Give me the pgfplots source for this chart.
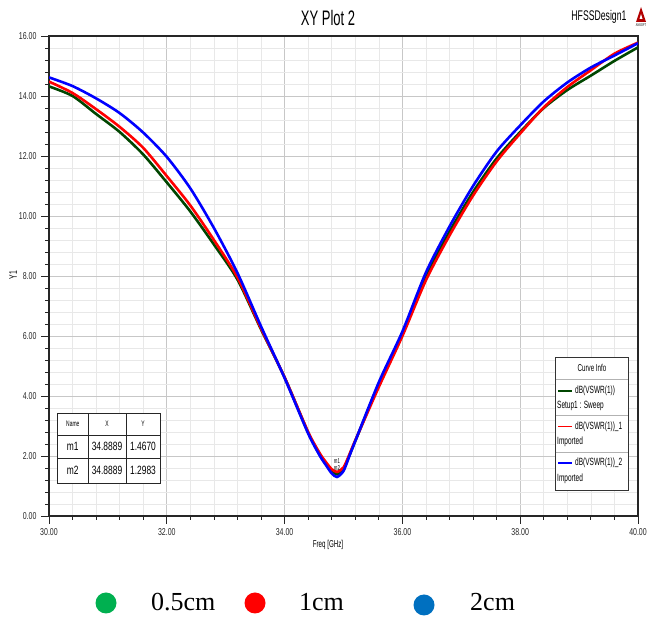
\documentclass[border=0pt]{standalone}
\usepackage{fontspec}
\usepackage{pgfplots}
\pgfplotsset{compat=1.18}
\setmainfont{Liberation Serif}
\newfontfamily\ticknarrow{Liberation Sans}[FakeStretch=0.7]
\newfontfamily\narrow{Liberation Sans}[FakeStretch=0.62]
\definecolor{cgreen}{RGB}{0,70,0}
\definecolor{cred}{RGB}{255,0,0}
\definecolor{cblue}{RGB}{0,0,255}
\definecolor{lgreen}{RGB}{0,176,80}
\definecolor{lred}{RGB}{255,0,0}
\definecolor{lblue}{RGB}{0,112,192}
\begin{document}
\begin{tikzpicture}
\path[use as bounding box] (0pt,0pt) rectangle (658pt,617pt);
\begin{axis}[
  at={(49pt,101pt)}, anchor=south west,
  scale only axis, width=589pt, height=480pt,
  xmin=30, xmax=40, ymin=0, ymax=16,
  xtick={30,32,34,36,38,40}, ytick={0,2,4,6,8,10,12,14,16},
  minor x tick num=4, minor y tick num=4,
  grid=both,
  major grid style={black!22, line width=0.7pt},
  minor grid style={black!9, line width=0.6pt},
  tick align=outside, tick pos=left,
  major tick length=8pt, minor tick length=4pt,
  tick style={black!85, line width=0.8pt},
  axis line style={black!85, line width=1.3pt},
  /pgf/number format/.cd, fixed, fixed zerofill, precision=2, assume math mode=true,
  /pgfplots/.cd,
  ticklabel style={font=\ticknarrow\fontsize{10}{12}\selectfont, text=black!85},
  xticklabel style={yshift=-1pt},
  yticklabel style={xshift=-1pt},
]
\addplot[cgreen, line width=2.6pt, smooth, tension=0.45] coordinates {
(30.0,14.32) (30.4,14.0) (30.8,13.4) (31.2,12.8) (31.6,12.05) (32.0,11.12)
(32.4,10.15) (32.8,9.05) (33.2,7.88) (33.6,6.22) (34.0,4.62) (34.4,2.78)
(34.6,2.05) (34.7,1.75) (34.8,1.5) (34.89,1.39) (35.0,1.55) (35.1,2.02)
(35.2,2.5) (35.6,4.38) (36.0,6.05) (36.4,8.0) (36.8,9.48) (37.2,10.8)
(37.6,11.92) (38.0,12.8) (38.4,13.6) (38.8,14.2) (39.2,14.68) (39.6,15.17) (40.0,15.62)};
\addplot[cred, line width=2.6pt, smooth, tension=0.45] coordinates {
(30.0,14.48) (30.4,14.1) (30.8,13.56) (31.2,12.97) (31.6,12.27) (32.0,11.33)
(32.4,10.35) (32.8,9.2) (33.2,7.95) (33.6,6.25) (34.0,4.62) (34.4,2.8)
(34.6,2.08) (34.7,1.8) (34.8,1.56) (34.89,1.47) (35.0,1.62) (35.1,2.05)
(35.2,2.52) (35.6,4.3) (36.0,6.0) (36.4,7.86) (36.8,9.35) (37.2,10.68)
(37.6,11.82) (38.0,12.75) (38.4,13.62) (38.8,14.3) (39.2,14.86) (39.6,15.41) (40.0,15.78)};
\addplot[cblue, line width=2.6pt, smooth, tension=0.45] coordinates {
(30.0,14.62) (30.4,14.33) (30.8,13.92) (31.2,13.43) (31.6,12.78) (32.0,11.97)
(32.4,10.92) (32.8,9.6) (33.2,8.1) (33.6,6.32) (34.0,4.6) (34.4,2.75)
(34.6,2.0) (34.7,1.7) (34.8,1.42) (34.89,1.30) (35.0,1.5) (35.1,2.0)
(35.2,2.5) (35.6,4.46) (36.0,6.15) (36.4,8.12) (36.8,9.65) (37.2,11.0)
(37.6,12.15) (38.0,13.02) (38.4,13.82) (38.8,14.45) (39.2,14.95) (39.6,15.35) (40.0,15.76)};
\node[font=\narrow\fontsize{7}{7}\selectfont, inner sep=0pt, anchor=south] at (axis cs:34.8889,1.75) {m1};
\node[font=\narrow\fontsize{7}{7}\selectfont, inner sep=0pt, anchor=south] at (axis cs:34.8889,1.5) {m2};
\end{axis}
% titles and labels
\node[font=\narrow\fontsize{21}{22}\selectfont] at (328pt,599pt) {XY Plot 2};
\node[font=\narrow\fontsize{14}{15}\selectfont, anchor=east] at (630pt,600pt) {HFSSDesign1};
\fill[red!70!black] (636pt,595pt) -- (646pt,595pt) -- (641pt,610pt) -- cycle;
\fill[white] (639.5pt,598pt) -- (642.5pt,598pt) -- (641pt,603pt) -- cycle;
\node[font=\narrow\fontsize{4}{4}\selectfont, inner sep=0pt] at (641pt,592pt) {ANSOFT};
\node[font=\narrow\fontsize{11}{12}\selectfont, rotate=90] at (13pt,342pt) {Y1};
\node[font=\narrow\fontsize{10}{11}\selectfont] at (328pt,72pt) {Freq [GHz]};
% curve info box
\fill[white] (555.5pt,127pt) rectangle (628pt,260pt);
\draw[black!80, line width=0.8pt] (555.5pt,127pt) rectangle (628pt,260pt);
\draw[black!30, line width=0.6pt] (555.5pt,238pt) -- (628pt,238pt);
\draw[black!30, line width=0.6pt] (555.5pt,201.5pt) -- (628pt,201.5pt);
\draw[black!30, line width=0.6pt] (555.5pt,165pt) -- (628pt,165pt);
\node[font=\narrow\fontsize{10}{11}\selectfont] at (592pt,249pt) {Curve Info};
\draw[cgreen, line width=1.8pt] (558pt,226.3pt) -- (572pt,226.3pt);
\node[font=\narrow\fontsize{10.5}{11}\selectfont, anchor=west, inner sep=0pt] at (575pt,226.3pt) {dB(VSWR(1))};
\node[font=\narrow\fontsize{10.5}{11}\selectfont, anchor=west, inner sep=0pt] at (557pt,211pt) {Setup1 : Sweep};
\draw[cred, line width=1.8pt] (558pt,190.5pt) -- (572pt,190.5pt);
\node[font=\narrow\fontsize{10.5}{11}\selectfont, anchor=west, inner sep=0pt] at (575pt,190.5pt) {dB(VSWR(1))\_1};
\node[font=\narrow\fontsize{10.5}{11}\selectfont, anchor=west, inner sep=0pt] at (557pt,175pt) {Imported};
\draw[cblue, line width=1.8pt] (558pt,154.2pt) -- (572pt,154.2pt);
\node[font=\narrow\fontsize{10.5}{11}\selectfont, anchor=west, inner sep=0pt] at (575pt,154.2pt) {dB(VSWR(1))\_2};
\node[font=\narrow\fontsize{10.5}{11}\selectfont, anchor=west, inner sep=0pt] at (557pt,138pt) {Imported};
% marker table
\fill[white] (57.3pt,133.7pt) rectangle (160pt,203.7pt);
\draw[black!85, line width=0.9pt] (57.3pt,133.7pt) rectangle (160pt,203.7pt);
\draw[black!85, line width=0.6pt] (57.3pt,182pt) -- (160pt,182pt);
\draw[black!85, line width=0.6pt] (57.3pt,158.7pt) -- (160pt,158.7pt);
\draw[black!85, line width=0.6pt] (88.3pt,133.7pt) -- (88.3pt,203.7pt);
\draw[black!85, line width=0.6pt] (126pt,133.7pt) -- (126pt,203.7pt);
\node[font=\narrow\fontsize{8}{9}\selectfont] at (72.8pt,192.8pt) {Name};
\node[font=\narrow\fontsize{8}{9}\selectfont] at (107pt,192.8pt) {X};
\node[font=\narrow\fontsize{8}{9}\selectfont] at (143pt,192.8pt) {Y};
\node[font=\ticknarrow\fontsize{12}{13}\selectfont] at (72.8pt,170.3pt) {m1};
\node[font=\ticknarrow\fontsize{12}{13}\selectfont] at (107pt,170.3pt) {34.8889};
\node[font=\ticknarrow\fontsize{12}{13}\selectfont] at (143pt,170.3pt) {1.4670};
\node[font=\ticknarrow\fontsize{12}{13}\selectfont] at (72.8pt,146.2pt) {m2};
\node[font=\ticknarrow\fontsize{12}{13}\selectfont] at (107pt,146.2pt) {34.8889};
\node[font=\ticknarrow\fontsize{12}{13}\selectfont] at (143pt,146.2pt) {1.2983};
% bottom legend
\fill[lgreen] (106pt,14pt) circle (10.5pt);
\fill[lred] (255pt,14pt) circle (10.5pt);
\fill[lblue] (424pt,12pt) circle (10.5pt);
\node[font=\fontsize{26}{28}\selectfont, anchor=base west, inner sep=0pt] at (151pt,6.5pt) {0.5cm};
\node[font=\fontsize{26}{28}\selectfont, anchor=base west, inner sep=0pt] at (299pt,6.5pt) {1cm};
\node[font=\fontsize{26}{28}\selectfont, anchor=base west, inner sep=0pt] at (470pt,6.5pt) {2cm};
\end{tikzpicture}
\end{document}
